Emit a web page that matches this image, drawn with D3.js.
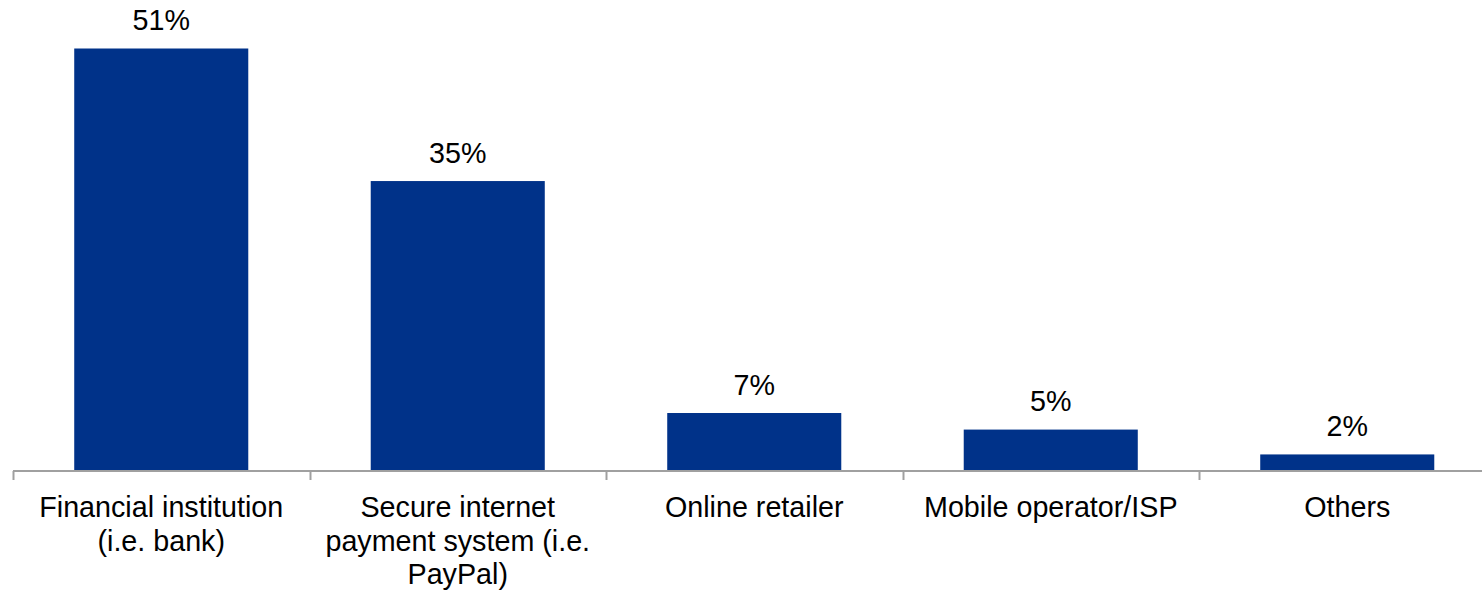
<!DOCTYPE html>
<html>
<head>
<meta charset="utf-8">
<script src="https://cdn.jsdelivr.net/npm/d3@7"></script>
<style>
  html, body { margin: 0; padding: 0; background: #ffffff; }
  svg { display: block; }
  text { font-family: Arial, "Liberation Sans", sans-serif; fill: #000; }
</style>
</head>
<body>
<svg id="chart" width="1482" height="590"></svg>
<script>
// Survey shares: preferred provider type
const categories = [
  "Financial institution (i.e. bank)",
  "Secure internet payment system (i.e. PayPal)",
  "Online retailer",
  "Mobile operator/ISP",
  "Others"
];
const values = [51, 35, 7, 5, 2];
const labelLines = [
  ["Financial institution", "(i.e. bank)"],
  ["Secure internet", "payment system (i.e.", "PayPal)"],
  ["Online retailer"],
  ["Mobile operator/ISP"],
  ["Others"]
];

const svg = d3.select("#chart");
const baseY = 471;
const left = 13, right = 1495.5;
const fontSize = "28.7px";

const x = d3.scaleBand()
  .domain(categories)
  .range([left, right])
  .paddingInner(0.413)
  .paddingOuter(0.2065);

const y = d3.scaleLinear()
  .domain([0, 51])
  .range([baseY, 48.5]);

// bars
svg.append("g")
  .selectAll("rect")
  .data(categories)
  .join("rect")
  .attr("x", d => x(d))
  .attr("width", x.bandwidth())
  .attr("y", (d, i) => y(values[i]))
  .attr("height", (d, i) => baseY - y(values[i]))
  .attr("fill", "#003289");

// value labels
svg.append("g")
  .selectAll("text")
  .data(categories)
  .join("text")
  .attr("x", d => x(d) + x.bandwidth() / 2)
  .attr("y", (d, i) => y(values[i]) - 18.5)
  .attr("text-anchor", "middle")
  .style("font-size", fontSize)
  .text((d, i) => values[i] + "%");

// category axis: baseline plus ticks between categories
const axisG = svg.append("g");
axisG.append("line")
  .attr("x1", left).attr("x2", 1482)
  .attr("y1", baseY).attr("y2", baseY)
  .attr("stroke", "#a0a0a0")
  .attr("stroke-width", 2);

const step = x.step();
const tickXs = d3.range(categories.length + 1).map(i => left + i * step);
axisG.selectAll("line.tick")
  .data(tickXs)
  .join("line")
  .attr("class", "tick")
  .attr("x1", d => Math.round(d) + 0.5).attr("x2", d => Math.round(d) + 0.5)
  .attr("y1", baseY).attr("y2", baseY + 9)
  .attr("stroke", "#a0a0a0")
  .attr("stroke-width", 2);

// category labels
const lab = axisG.selectAll("text.cat")
  .data(categories)
  .join("text")
  .attr("class", "cat")
  .attr("text-anchor", "middle")
  .style("font-size", fontSize)
  .attr("transform", d => `translate(${x(d) + x.bandwidth() / 2},${517})`);

lab.each(function(d, i) {
  const t = d3.select(this);
  labelLines[i].forEach((ln, j) => {
    t.append("tspan")
      .attr("x", 0)
      .attr("y", j * 33.5)
      .text(ln);
  });
});
</script>
</body>
</html>
